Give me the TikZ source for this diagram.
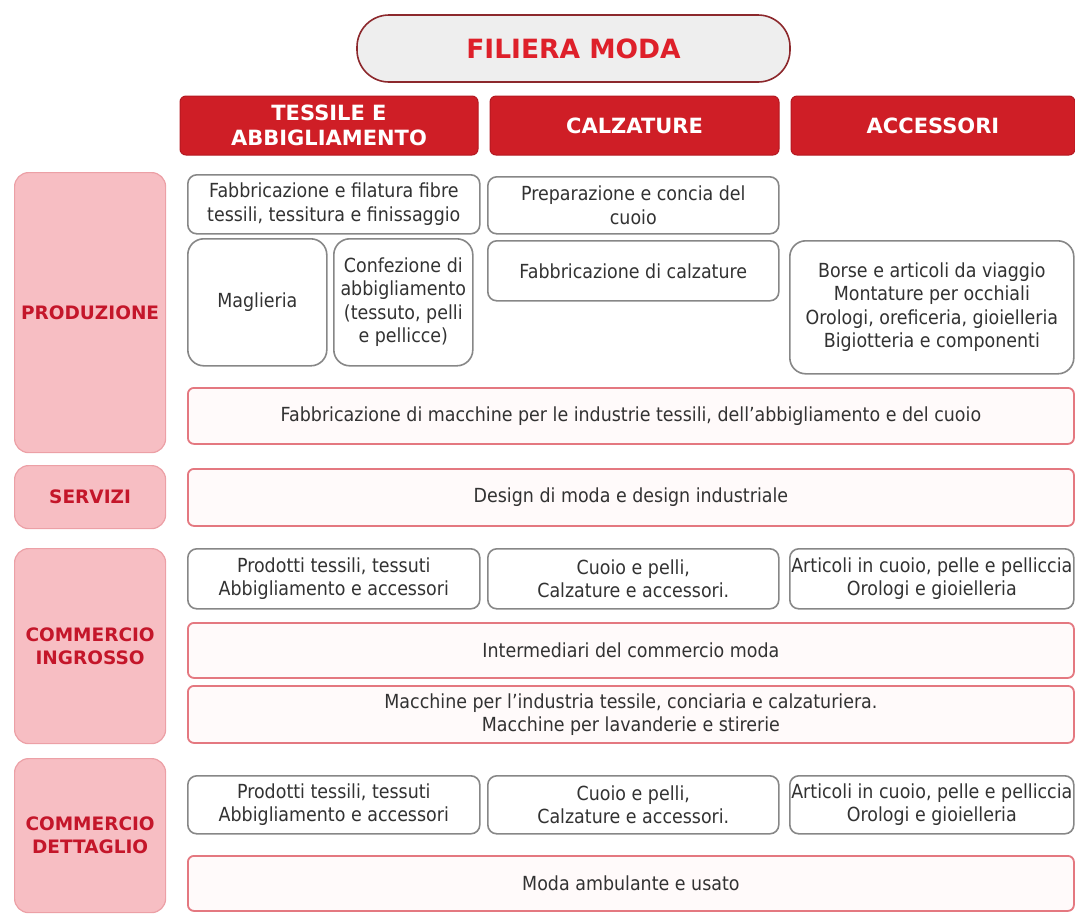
\documentclass[tikz,border=0pt]{standalone}
\usepackage{fontspec}
\setmainfont{DejaVu Sans}
\newfontfamily\itemfont{DejaVu Sans}[FakeStretch=0.9]
\usetikzlibrary{positioning}

\definecolor{hdred}{RGB}{207,30,38}
\definecolor{hdline}{RGB}{180,24,32}
\definecolor{ttred}{RGB}{222,32,42}
\definecolor{ttline}{RGB}{140,40,44}
\definecolor{ttfill}{RGB}{238,238,238}
\definecolor{phfill}{RGB}{247,190,195}
\definecolor{phline}{RGB}{236,160,166}
\definecolor{phtext}{RGB}{196,22,42}
\definecolor{itline}{RGB}{135,135,135}
\definecolor{ittext}{RGB}{50,50,50}
\definecolor{bdline}{RGB}{228,120,128}
\definecolor{bdfill}{RGB}{255,250,250}

\begin{document}
\begin{tikzpicture}[x=1pt, y=-1pt,
  title/.style={draw=ttline, line width=1.6pt, fill=ttfill, rounded corners=32pt, text=ttred, font=\fontsize{26.5}{30}\selectfont\bfseries, minimum width=433pt, minimum height=67pt},
  head/.style={fill=hdred, draw=hdline, line width=1pt, rounded corners=6pt, text=white, font=\fontsize{21}{25}\selectfont\bfseries, align=center, minimum height=59pt, inner xsep=2pt},
  phase/.style={fill=phfill, draw=phline, line width=1.2pt, rounded corners=14pt, text=phtext, font=\fontsize{18.5}{23}\selectfont\bfseries, align=center, minimum width=151pt, anchor=north west},
  item/.style={draw=itline, line width=1.6pt, fill=white, rounded corners=9pt, text=ittext, font=\itemfont\fontsize{19.4}{23.5}\selectfont, align=center, inner xsep=1pt, anchor=north west},
  band/.style={draw=bdline, line width=1.8pt, fill=bdfill, rounded corners=6pt, text=ittext, font=\itemfont\fontsize{19.4}{23.5}\selectfont, align=center, minimum width=886pt, anchor=north west}
]
\useasboundingbox (0,0) rectangle (1075,914);

% title and column heads
\node[title] (filiera) at (573.5,48.5) {FILIERA MODA};
\node[head, minimum width=298pt] (tex) at (329,125.5) {TESSILE E\\ABBIGLIAMENTO};
\node[head, minimum width=289pt, right=11pt of tex] (calz) {CALZATURE};
\node[head, minimum width=284pt, right=11pt of calz] (acc) {ACCESSORI};

% phases
\node[phase, minimum height=280pt] (prod) at (14,172) {PRODUZIONE};
\node[phase, minimum height=63pt] (serv) at (14,465) {SERVIZI};
\node[phase, minimum height=195pt] (ingr) at (14,548) {COMMERCIO\\INGROSSO};
\node[phase, minimum height=154pt] (dett) at (14,758) {COMMERCIO\\DETTAGLIO};

% produzione
\node[item, minimum width=292pt, minimum height=59pt] (fibre) at (187,174) {Fabbricazione e filatura fibre\\tessili, tessitura e finissaggio};
\node[item, minimum width=291pt, minimum height=57pt] (concia) at (487,176) {Preparazione e concia del\\cuoio};
\node[item, minimum width=139pt, minimum height=127pt, rounded corners=16pt] (maglia) at (187,238) {Maglieria};
\node[item, minimum width=139pt, minimum height=127pt, rounded corners=16pt] (confez) at (333,238) {Confezione di\\abbigliamento\\(tessuto, pelli\\e pellicce)};
\node[item, minimum width=291pt, minimum height=60pt] (scarpe) at (487,240) {Fabbricazione di calzature};
\node[item, minimum width=284pt, minimum height=133pt, rounded corners=16pt] (borse) at (789,240) {Borse e articoli da viaggio\\Montature per occhiali\\Orologi, oreficeria, gioielleria\\Bigiotteria e componenti};
\node[band, minimum height=56pt] (macch) at (187,387) {Fabbricazione di macchine per le industrie tessili, dell’abbigliamento e del cuoio};

% servizi
\node[band, minimum height=57pt] (design) at (187,468) {Design di moda e design industriale};

% commercio ingrosso
\node[item, minimum width=292pt, minimum height=60pt] (ingtex) at (187,548) {Prodotti tessili, tessuti\\Abbigliamento e accessori};
\node[item, minimum width=291pt, minimum height=60pt] (ingcuo) at (487,548) {Cuoio e pelli,\\Calzature e accessori.};
\node[item, minimum width=284pt, minimum height=60pt] (ingacc) at (789,548) {Articoli in cuoio, pelle e pelliccia\\Orologi e gioielleria};
\node[band, minimum height=55pt] (interm) at (187,622) {Intermediari del commercio moda};
\node[band, minimum height=57pt] (ingmac) at (187,685) {Macchine per l’industria tessile, conciaria e calzaturiera.\\Macchine per lavanderie e stirerie};

% commercio dettaglio
\node[item, minimum width=292pt, minimum height=58pt] (dettex) at (187,775) {Prodotti tessili, tessuti\\Abbigliamento e accessori};
\node[item, minimum width=291pt, minimum height=58pt] (detcuo) at (487,775) {Cuoio e pelli,\\Calzature e accessori.};
\node[item, minimum width=284pt, minimum height=58pt] (detacc) at (789,775) {Articoli in cuoio, pelle e pelliccia\\Orologi e gioielleria};
\node[band, minimum height=55pt] (usato) at (187,855) {Moda ambulante e usato};
\end{tikzpicture}
\end{document}
